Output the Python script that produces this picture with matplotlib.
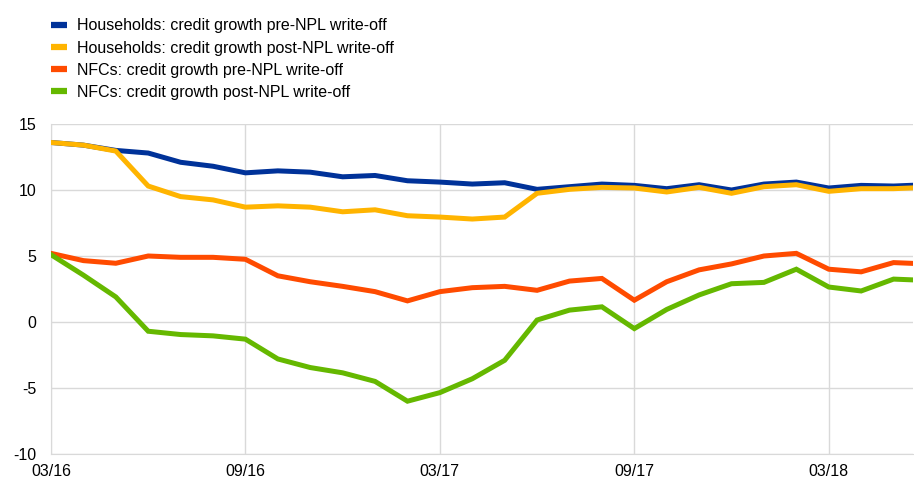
import numpy as np
import matplotlib.pyplot as plt
from matplotlib.lines import Line2D

plt.rcParams['font.family'] = ['Liberation Sans', 'DejaVu Sans']
plt.rcParams['axes.unicode_minus'] = False

# monthly observations, March 2016 onwards
months = np.arange(28)
tick_pos = [0, 6, 12, 18, 24]
tick_labels = ['03/16', '09/16', '03/17', '09/17', '03/18']

hh_pre = [13.6, 13.4, 13.0, 12.8, 12.1, 11.8, 11.3, 11.45, 11.35, 11.0, 11.1, 10.7,
          10.6, 10.45, 10.55, 10.05, 10.25, 10.45, 10.35, 10.1, 10.4, 10.0, 10.45, 10.6,
          10.15, 10.35, 10.3, 10.4]
hh_post = [13.6, 13.4, 12.95, 10.3, 9.5, 9.25, 8.7, 8.8, 8.7, 8.35, 8.5, 8.05,
           7.95, 7.8, 7.95, 9.75, 10.05, 10.2, 10.15, 9.85, 10.2, 9.75, 10.25, 10.4,
           9.9, 10.1, 10.1, 10.2]
nfc_pre = [5.2, 4.65, 4.45, 5.0, 4.9, 4.9, 4.75, 3.5, 3.05, 2.7, 2.3, 1.6,
           2.3, 2.6, 2.7, 2.4, 3.1, 3.3, 1.65, 3.05, 3.95, 4.4, 5.0, 5.2,
           4.0, 3.8, 4.5, 4.4]
nfc_post = [5.1, 3.55, 1.9, -0.7, -0.95, -1.05, -1.3, -2.8, -3.45, -3.85, -4.5, -6.0,
            -5.35, -4.3, -2.9, 0.15, 0.9, 1.15, -0.5, 0.95, 2.05, 2.9, 3.0, 4.0,
            2.65, 2.35, 3.25, 3.15]

series = [
    ('Households: credit growth pre-NPL write-off', hh_pre, '#003299'),
    ('Households: credit growth post-NPL write-off', hh_post, '#FFB400'),
    ('NFCs: credit growth pre-NPL write-off', nfc_pre, '#FF4B00'),
    ('NFCs: credit growth post-NPL write-off', nfc_post, '#65B800'),
]

fig = plt.figure(figsize=(9.14, 4.8), dpi=100)
ax = fig.add_axes([51 / 914, 1 - 454 / 480, 862 / 914, 330 / 480])

for label, vals, col in series:
    ax.plot(months, vals, color=col, lw=3.6, solid_joinstyle='miter', zorder=3)

ax.set_xlim(0, 26.6)
ax.set_ylim(-10, 15)
ax.set_yticks([-10, -5, 0, 5, 10, 15])
ax.set_xticks(tick_pos)
ax.set_xticklabels(tick_labels)
ax.grid(True, color='#d9d9d9', lw=1)
ax.set_axisbelow(True)
ax.tick_params(length=0, labelsize=11.5, colors='#000000')
ax.tick_params(axis='x', pad=7.5)
ax.tick_params(axis='y', pad=10.5)
for s in ['top', 'right']:
    ax.spines[s].set_visible(False)
for s in ['left', 'bottom']:
    ax.spines[s].set_color('#d9d9d9')

handles = [Line2D([0], [0], color=col, lw=4.5, solid_capstyle='butt') for _, _, col in series]
fig.legend(handles, [s[0] for s in series], loc='upper left',
           bbox_to_anchor=(37 / 914, 1 - 4 / 480), frameon=False,
           fontsize=11.5, handlelength=1.0, handletextpad=0.6, labelspacing=0.45)

fig.savefig('out.png', dpi=100)
